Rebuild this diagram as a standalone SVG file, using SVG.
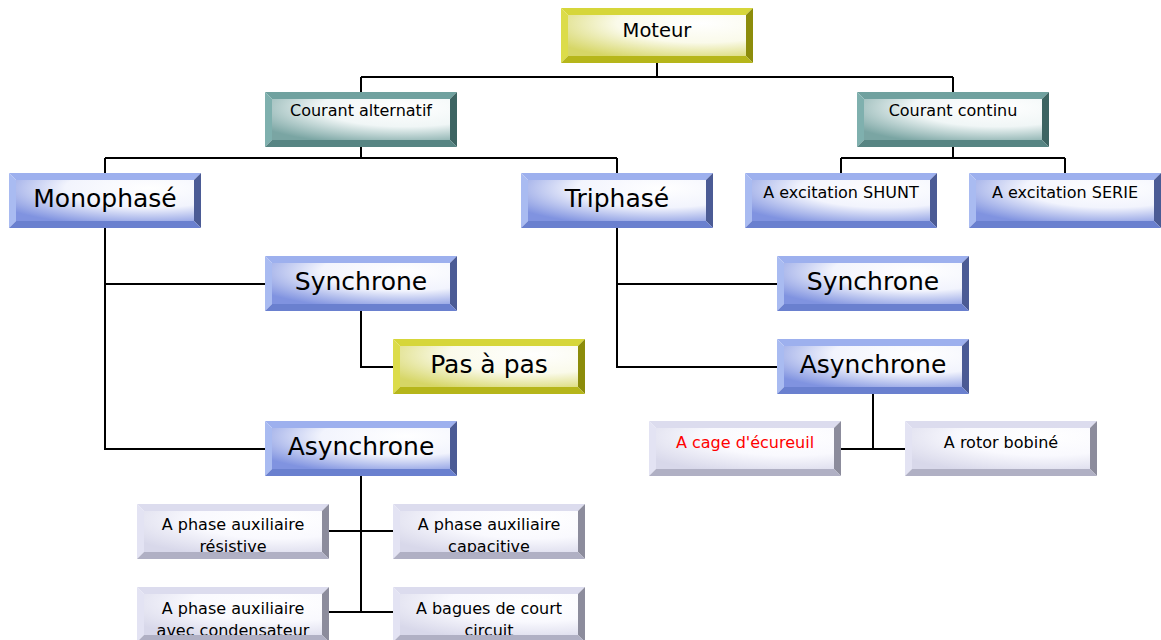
<svg xmlns="http://www.w3.org/2000/svg" xmlns:xlink="http://www.w3.org/1999/xlink" width="1161" height="640" viewBox="0 0 1161 640">
  <defs>
    <!-- face gradients: white highlight fading to the box colour towards the lower left -->
    <radialGradient id="gBlue" cx="0.75" cy="0.2" r="0.95" fx="0.75" fy="0.2">
      <stop offset="0" stop-color="#ffffff"/>
      <stop offset="0.5" stop-color="#f2f4fd"/>
      <stop offset="1" stop-color="#8093e0"/>
    </radialGradient>
    <radialGradient id="gTeal" cx="0.75" cy="0.2" r="0.95" fx="0.75" fy="0.2">
      <stop offset="0" stop-color="#ffffff"/>
      <stop offset="0.5" stop-color="#f0f6f6"/>
      <stop offset="1" stop-color="#7aa5a3"/>
    </radialGradient>
    <radialGradient id="gYellow" cx="0.75" cy="0.2" r="0.95" fx="0.75" fy="0.2">
      <stop offset="0" stop-color="#ffffff"/>
      <stop offset="0.5" stop-color="#fafaea"/>
      <stop offset="1" stop-color="#d6d666"/>
    </radialGradient>
    <radialGradient id="gGray" cx="0.75" cy="0.2" r="0.95" fx="0.75" fy="0.2">
      <stop offset="0" stop-color="#ffffff"/>
      <stop offset="0.5" stop-color="#f9f9fe"/>
      <stop offset="1" stop-color="#d8d8ea"/>
    </radialGradient>

    <!-- inner faces (192 x 55 box, 7px bevel) -->
    <rect id="faceBlue" x="7" y="7" width="178" height="41" fill="url(#gBlue)"/>
    <rect id="faceTeal" x="7" y="7" width="178" height="41" fill="url(#gTeal)"/>
    <rect id="faceYellow" x="7" y="7" width="178" height="41" fill="url(#gYellow)"/>
    <rect id="faceGray" x="7" y="7" width="178" height="41" fill="url(#gGray)"/>

    <!-- bevelled frames -->
    <g id="frameBlue">
      <polygon points="0,0 192,0 185,7 7,7" fill="#9db0ee"/>
      <polygon points="0,0 7,7 7,48 0,55" fill="#a9bbf1"/>
      <polygon points="192,0 192,55 185,48 185,7" fill="#4b5b95"/>
      <polygon points="0,55 7,48 185,48 192,55" fill="#6a80cf"/>
    </g>
    <g id="frameTeal">
      <polygon points="0,0 192,0 185,7 7,7" fill="#70a19f"/>
      <polygon points="0,0 7,7 7,48 0,55" fill="#7fb0ae"/>
      <polygon points="192,0 192,55 185,48 185,7" fill="#3d6462"/>
      <polygon points="0,55 7,48 185,48 192,55" fill="#578583"/>
    </g>
    <g id="frameYellow">
      <polygon points="0,0 192,0 185,7 7,7" fill="#d6d63a"/>
      <polygon points="0,0 7,7 7,48 0,55" fill="#dcdc4a"/>
      <polygon points="192,0 192,55 185,48 185,7" fill="#8c8c0a"/>
      <polygon points="0,55 7,48 185,48 192,55" fill="#b6b61a"/>
    </g>
    <g id="frameGray">
      <polygon points="0,0 192,0 185,7 7,7" fill="#dcdcee"/>
      <polygon points="0,0 7,7 7,48 0,55" fill="#e3e3f3"/>
      <polygon points="192,0 192,55 185,48 185,7" fill="#8c8c9c"/>
      <polygon points="0,55 7,48 185,48 192,55" fill="#b0b0c4"/>
    </g>

    <style>
      text { font-family: "DejaVu Sans", Verdana, sans-serif; fill: #000000; text-anchor: middle; }
      .big { font-size: 25px; }
      .mid { font-size: 19.5px; }
      .small { font-size: 16px; }
      .red { fill: #ff0000; }
      .wire { fill: none; stroke: #000000; stroke-width: 2; }
    </style>
  </defs>

  <rect width="1161" height="640" fill="#ffffff"/>

  <!-- connectors -->
  <g id="connectors" class="wire">
    <path d="M657,63 V77 M361,77 H953 M361,77 V92 M953,77 V92"/>
    <path d="M361,146 V158 M105,158 H617 M105,158 V173 M617,158 V173"/>
    <path d="M953,146 V158 M841,158 H1065 M841,158 V173 M1065,158 V173"/>
    <path d="M105,228 V449 H265 M105,284 H265"/>
    <path d="M361,311 V367 H393"/>
    <path d="M617,228 V367 H777 M617,284 H777"/>
    <path d="M873,394 V449 M841,449 H905"/>
    <path d="M361,476 V612 M329,531 H393 M329,612 H393"/>
  </g>

  <!-- nodes -->
  <g id="moteur" transform="translate(561,8)">
    <use xlink:href="#faceYellow"/>
    <text class="mid" x="96" y="29">Moteur</text>
    <use xlink:href="#frameYellow"/>
  </g>
  <g id="courant-alternatif" transform="translate(265,92)">
    <use xlink:href="#faceTeal"/>
    <text class="small" x="96" y="24">Courant alternatif</text>
    <use xlink:href="#frameTeal"/>
  </g>
  <g id="courant-continu" transform="translate(857,92)">
    <use xlink:href="#faceTeal"/>
    <text class="small" x="96" y="24">Courant continu</text>
    <use xlink:href="#frameTeal"/>
  </g>
  <g id="monophase" transform="translate(9,173)">
    <use xlink:href="#faceBlue"/>
    <text class="big" x="96" y="34">Monophasé</text>
    <use xlink:href="#frameBlue"/>
  </g>
  <g id="triphase" transform="translate(521,173)">
    <use xlink:href="#faceBlue"/>
    <text class="big" x="96" y="34">Triphasé</text>
    <use xlink:href="#frameBlue"/>
  </g>
  <g id="excitation-shunt" transform="translate(745,173)">
    <use xlink:href="#faceBlue"/>
    <text class="small" x="96" y="25">A excitation SHUNT</text>
    <use xlink:href="#frameBlue"/>
  </g>
  <g id="excitation-serie" transform="translate(969,173)">
    <use xlink:href="#faceBlue"/>
    <text class="small" x="96" y="25">A excitation SERIE</text>
    <use xlink:href="#frameBlue"/>
  </g>
  <g id="mono-synchrone" transform="translate(265,256)">
    <use xlink:href="#faceBlue"/>
    <text class="big" x="96" y="34">Synchrone</text>
    <use xlink:href="#frameBlue"/>
  </g>
  <g id="pas-a-pas" transform="translate(393,339)">
    <use xlink:href="#faceYellow"/>
    <text class="big" x="96" y="34">Pas à pas</text>
    <use xlink:href="#frameYellow"/>
  </g>
  <g id="mono-asynchrone" transform="translate(265,421)">
    <use xlink:href="#faceBlue"/>
    <text class="big" x="96" y="34">Asynchrone</text>
    <use xlink:href="#frameBlue"/>
  </g>
  <g id="tri-synchrone" transform="translate(777,256)">
    <use xlink:href="#faceBlue"/>
    <text class="big" x="96" y="34">Synchrone</text>
    <use xlink:href="#frameBlue"/>
  </g>
  <g id="tri-asynchrone" transform="translate(777,339)">
    <use xlink:href="#faceBlue"/>
    <text class="big" x="96" y="34">Asynchrone</text>
    <use xlink:href="#frameBlue"/>
  </g>
  <g id="cage-ecureuil" transform="translate(649,421)">
    <use xlink:href="#faceGray"/>
    <text class="small red" x="96" y="27">A cage d'écureuil</text>
    <use xlink:href="#frameGray"/>
  </g>
  <g id="rotor-bobine" transform="translate(905,421)">
    <use xlink:href="#faceGray"/>
    <text class="small" x="96" y="27">A rotor bobiné</text>
    <use xlink:href="#frameGray"/>
  </g>
  <g id="phase-resistive" transform="translate(137,504)">
    <use xlink:href="#faceGray"/>
    <text class="small" x="96" y="26">A phase auxiliaire</text>
    <text class="small" x="96" y="48">résistive</text>
    <use xlink:href="#frameGray"/>
  </g>
  <g id="phase-capacitive" transform="translate(393,504)">
    <use xlink:href="#faceGray"/>
    <text class="small" x="96" y="26">A phase auxiliaire</text>
    <text class="small" x="96" y="48">capacitive</text>
    <use xlink:href="#frameGray"/>
  </g>
  <g id="phase-condensateur" transform="translate(137,587)">
    <use xlink:href="#faceGray"/>
    <text class="small" x="96" y="27">A phase auxiliaire</text>
    <text class="small" x="96" y="49">avec condensateur</text>
    <use xlink:href="#frameGray"/>
  </g>
  <g id="bagues-court-circuit" transform="translate(393,587)">
    <use xlink:href="#faceGray"/>
    <text class="small" x="96" y="27">A bagues de court</text>
    <text class="small" x="96" y="49">circuit</text>
    <use xlink:href="#frameGray"/>
  </g>
</svg>
